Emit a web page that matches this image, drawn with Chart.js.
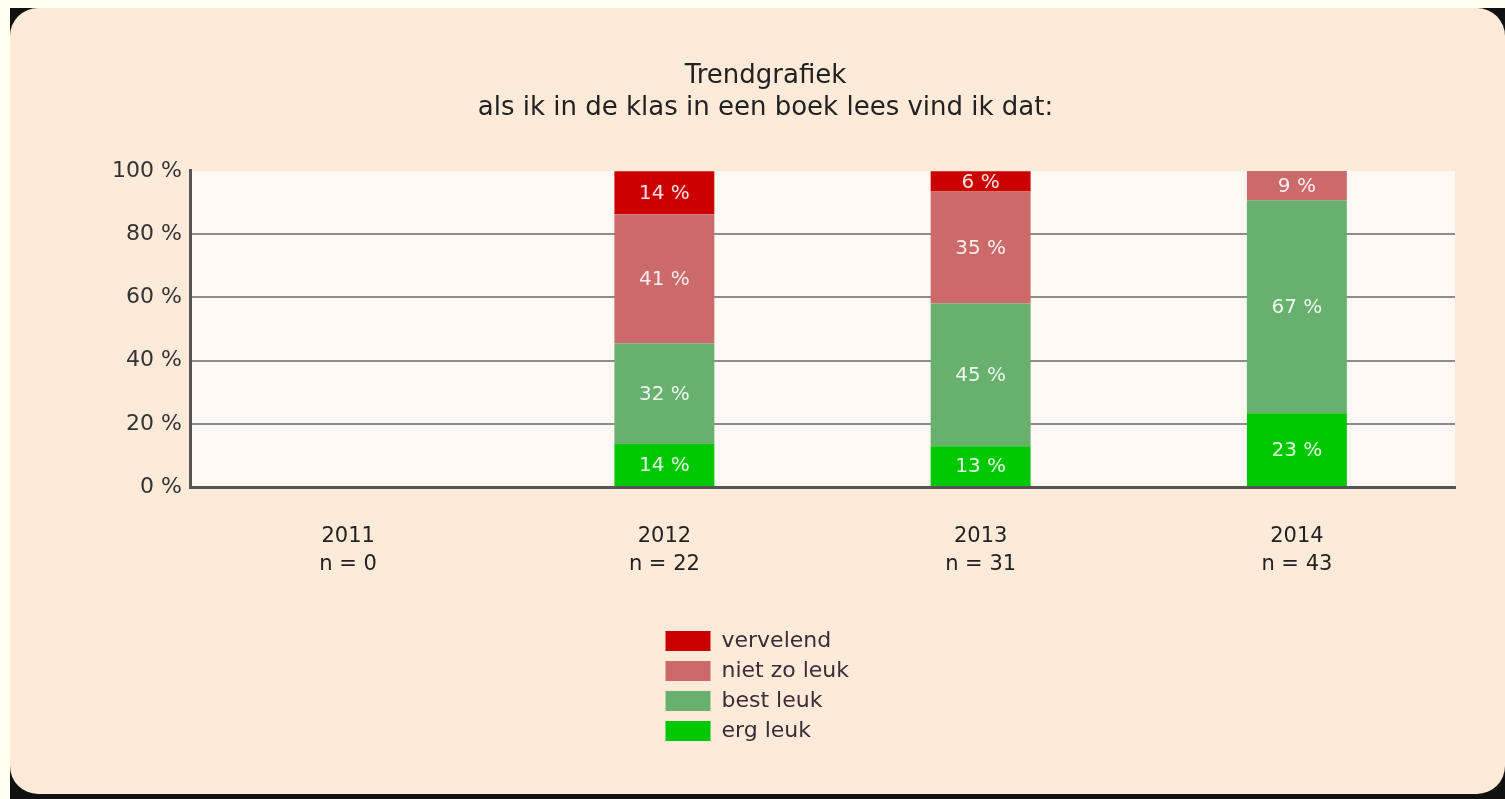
<!DOCTYPE html>
<html>
<head>
<meta charset="utf-8">
<script src="https://cdn.jsdelivr.net/npm/chart.js@4/dist/chart.umd.min.js"></script>
<style>
    html, body { margin: 0; padding: 0; width: 1505px; height: 799px; overflow: hidden; background: #fffff2; }
    #frame { position: absolute; left: 10px; top: 8px; right: 0; bottom: 0; background: #111; }
    #panel { position: absolute; left: 10px; top: 8px; width: 1495px; height: 786px; background: #fdead8; border-radius: 28px; }
    #wrap { position: absolute; left: 0; top: 0; width: 1505px; height: 799px; }
</style>
</head>
<body>
<div id="frame"></div>
<div id="panel"></div>
<div id="wrap"><canvas id="trendChart"></canvas></div>
<script>
// Data
const years = ['2011', '2012', '2013', '2014'];
const respondents = [0, 22, 31, 43];
const ergLeuk = [0, 13.6, 12.9, 23.3];
const bestLeuk = [0, 31.8, 45.2, 67.4];
const nietZoLeuk = [0, 40.9, 35.4, 9.3];
const vervelend = [0, 13.6, 6.4, 0];
const yTicks = [0, 20, 40, 60, 80, 100];

const xLabels = years.map((y, i) => [y, 'n = ' + respondents[i]]);

// plot background
const plotBg = {
    id: 'plotBg',
    beforeDraw(chart) {
        const a = chart.chartArea;
        const ctx = chart.ctx;
        ctx.save();
        ctx.fillStyle = '#fdf8f3';
        ctx.fillRect(a.left, a.top, a.right - a.left, a.bottom - a.top);
        ctx.restore();
    }
};

// percentages in the bars
const barLabels = {
    id: 'barLabels',
    afterDatasetsDraw(chart) {
        const ctx = chart.ctx;
        ctx.save();
        ctx.font = '20px "DejaVu Sans"';
        ctx.textAlign = 'center';
        ctx.textBaseline = 'middle';
        ctx.fillStyle = 'rgba(255, 255, 255, 0.88)';
        chart.data.datasets.forEach((ds, i) => {
            chart.getDatasetMeta(i).data.forEach((bar, j) => {
                const v = ds.data[j];
                if (!v) return;
                ctx.fillText(Math.round(v) + ' %', bar.x, (bar.y + bar.base) / 2 + 1);
            });
        });
        ctx.restore();
    }
};

// vertical legend under the axis
const vertLegend = {
    id: 'vertLegend',
    afterDraw(chart) {
        const ctx = chart.ctx;
        const a = chart.chartArea;
        const left = (a.left + a.right) / 2 - 157;
        let y = a.bottom + 144;
        ctx.save();
        ctx.font = '22px "DejaVu Sans"';
        ctx.textBaseline = 'middle';
        ctx.textAlign = 'left';
        chart.data.datasets.slice().reverse().forEach(ds => {
            ctx.fillStyle = ds.backgroundColor;
            ctx.fillRect(left, y, 45, 20);
            ctx.fillStyle = '#3a2c38';
            ctx.fillText(ds.label, left + 56, y + 10);
            y += 30;
        });
        ctx.restore();
    }
};

const ctx = document.getElementById('trendChart').getContext('2d');
const trendChart = new Chart(ctx, {
    type: 'bar',
    data: {
        labels: xLabels,
        datasets: [
            { label: 'erg leuk', data: ergLeuk, backgroundColor: '#00c800' },
            { label: 'best leuk', data: bestLeuk, backgroundColor: '#68b06e' },
            { label: 'niet zo leuk', data: nietZoLeuk, backgroundColor: '#cc6a6a' },
            { label: 'vervelend', data: vervelend, backgroundColor: '#cc0000' }
        ]
    },
    options: {
        responsive: true,
        maintainAspectRatio: false,
        animation: false,
        layout: {
            padding: { left: 76, right: 50, top: 0, bottom: 202 }
        },
        datasets: {
            bar: { categoryPercentage: 1, barPercentage: 0.316, borderWidth: 0 }
        },
        scales: {
            x: {
                stacked: true,
                grid: { display: false, drawTicks: false },
                border: { color: '#555', width: 3 },
                afterFit(scale) { scale.height = 110; },
                ticks: {
                    padding: 36,
                    color: '#222',
                    font: { family: '"DejaVu Sans"', size: 21, lineHeight: 1.333 }
                }
            },
            y: {
                stacked: true,
                min: 0,
                max: 100,
                afterFit(scale) { scale.width = 114; },
                afterBuildTicks(scale) { scale.ticks = yTicks.map(v => ({ value: v })); },
                grid: {
                    drawTicks: false,
                    lineWidth: 2,
                    color: c => (c.tick && (c.tick.value === 100 || c.tick.value === 0)) ? 'rgba(0,0,0,0)' : '#8c8c8c'
                },
                border: { color: '#555', width: 3 },
                ticks: {
                    padding: 8,
                    color: '#333',
                    font: { family: '"DejaVu Sans"', size: 22 },
                    callback: v => v + ' %'
                }
            }
        },
        plugins: {
            legend: { display: false },
            tooltip: { enabled: false },
            title: {
                display: true,
                text: ['Trendgrafiek', 'als ik in de klas in een boek lees vind ik dat:'],
                color: '#222',
                font: { family: '"DejaVu Sans"', size: 26, weight: 'normal', lineHeight: 1.23 },
                padding: { top: 60, bottom: 47 }
            }
        }
    },
    plugins: [plotBg, barLabels, vertLegend]
});
</script>
</body>
</html>
